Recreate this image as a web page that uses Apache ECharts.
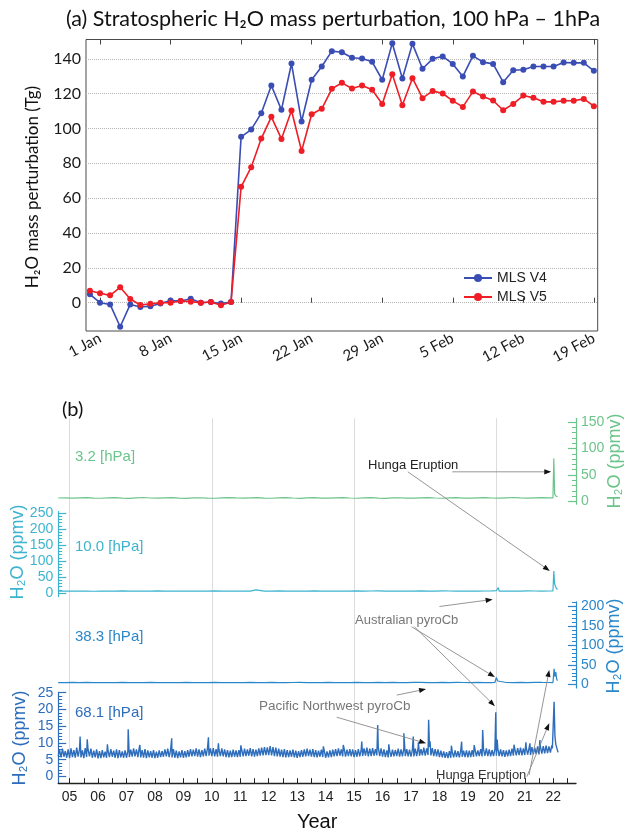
<!DOCTYPE html>
<html><head><meta charset="utf-8">
<script src="https://cdn.jsdelivr.net/npm/echarts@6/dist/echarts.min.js"></script>
<style>html,body{margin:0;padding:0;background:#fff}#c{width:624px;height:829px}</style>
</head><body><div id="c"></div>
<script>
// ================= DATA =================
// Panel (a): daily stratospheric H2O mass perturbation (Tg); first value = 31 Dec (day -1 from 1 Jan)
const aStartDay = -1;
const aTickDays = [0, 7, 14, 21, 28, 35, 42, 49];
const aTickLabels = ['1 Jan', '8 Jan', '15 Jan', '22 Jan', '29 Jan', '5 Feb', '12 Feb', '19 Feb'];
const aYTicks = [0, 20, 40, 60, 80, 100, 120, 140];
const mlsV4 = [4.8, 0, -1, -13.8, -1, -2.5, -2, -0.5, 1.2, 1, 2.3, 0, 0.4, -0.5, 0.4,
  95.2, 99.4, 108.8, 124.7, 110.7, 137.3, 104, 128, 135.6, 144.4, 143.8, 140.6, 140.2, 138.3, 128,
  149, 128.7, 148.6, 134.3, 140, 141.4, 137.1, 129.9, 141.7, 138.1, 137.1, 126.6, 133.5, 133.7,
  135.6, 135.6, 135.6, 137.9, 137.7, 137.7, 133.1];
const mlsV5 = [6.9, 5.4, 4.2, 8.8, 2.1, -1.3, -0.6, 0, 0, 1, 0.6, 0, 0.4, -1.5, 0.4,
  66.5, 77.8, 94.2, 106.7, 94, 110.3, 87.1, 108.2, 111.3, 122.8, 126.2, 123, 124.7, 122.2, 114.1,
  131.2, 113.4, 128.9, 117.4, 121.6, 120.1, 115.9, 112.4, 121.2, 118.4, 116.1, 110.5, 114.1, 118.9,
  117.6, 115.3, 115.3, 115.9, 115.9, 117, 112.8];

// Panel (b): H2O (ppmv) time series at four pressure levels
const bYearTicks = [2005,2006,2007,2008,2009,2010,2011,2012,2013,2014,2015,2016,2017,2018,2019,2020,2021,2022];
const bMinorYearTicks = [2005,2005.5,2006,2006.5,2007,2007.5,2008,2008.5,2009,2009.5,2010,2010.5,2011,2011.5,2012,2012.5,2013,2013.5,2014,2014.5,2015,2015.5,2016,2016.5,2017,2017.5,2018,2018.5,2019,2019.5,2020,2020.5,2021,2021.5,2022,2022.5];
const bGridYears = [2005, 2010, 2015, 2020];

// 3.2 hPa: values every 0.25 yr from 2004.6, then events
const lev32Start = 2004.6, lev32Step = 0.25;
const lev32Base = [6.6,7.0,6.2,6.8,7.4,6.5,6.1,6.9,7.2,6.4, 6.0,6.8,7.5,6.6,6.2,7.0,7.3,6.3,6.0,6.9,
  7.1,6.5,6.1,6.8,7.4,6.7,6.2,6.9,7.2,6.4, 6.1,6.7,7.3,6.6,6.0,6.8,7.2,6.5,6.2,7.0,
  7.4,6.6,6.1,6.9,7.3,6.4,6.0,6.8,7.1,6.5, 6.2,7.0,7.4,6.6,6.1,6.8,7.3,6.5,6.2,7.0,
  7.2,6.6,6.3,6.9,7.5,6.7,6.2,6.9,7.3,6.8];
const lev32Events = [[2021.99, 7.0], [2022.02, 81], [2022.05, 14], [2022.1, 10], [2022.15, 9]];

// 10.0 hPa
const lev10Start = 2004.6, lev10Step = 0.25;
const lev10Base = [6.0,5.6,6.3,5.8,6.1,5.5,6.2,5.9,5.7,6.4, 6.0,5.6,6.2,5.8,6.5,5.9,5.7,6.3,6.0,5.8,
  6.1,5.7,6.4,6.0,5.6,6.2,5.9,5.7,6.3,6.1, 5.8,6.4,6.0,5.6,6.2,5.9,6.5,6.0,5.7,6.3,
  6.1,5.8,6.4,5.9,6.2,6.6,6.0,5.7,6.3,6.0, 5.8,6.4,6.1,5.9,6.5,6.2,5.8,6.3,6.0,5.9,
  6.2,6.6,6.1,5.8,6.3,6.0,6.4,6.2,5.9,6.3];
const lev10Events = [[2011.55, 10], [2020.0, 7], [2020.07, 17], [2020.14, 9],
  [2021.99, 6.5], [2022.02, 69], [2022.05, 28], [2022.1, 16], [2022.15, 11]];

// 38.3 hPa
const lev38Start = 2004.6, lev38Step = 0.25;
const lev38Base = [5.0,4.6,5.2,4.8,5.3,4.7,4.9,5.1,4.6,5.2, 4.8,5.0,4.7,5.3,4.9,4.6,5.1,4.8,5.2,4.7,
  5.0,4.8,5.4,4.9,4.6,5.1,4.8,5.3,5.0,4.7, 5.2,4.9,4.6,5.1,5.4,4.8,5.0,4.7,5.3,4.9,
  5.1,4.8,5.5,5.0,4.7,5.2,4.9,5.4,5.0,4.8, 5.3,5.6,5.0,4.8,5.2,4.9,5.5,5.1,4.8,5.2,
  5.0,4.9,5.6,5.1,4.8,5.3,5.0,5.4,5.2,5.1];
const lev38Events = [[2017.65, 9], [2019.95, 5.2], [2020.0, 18], [2020.05, 9],
  [2021.99, 5], [2022.03, 40], [2022.06, 20], [2022.09, 32], [2022.12, 14], [2022.15, 10]];

// 68.1 hPa: low / high envelope of the noisy band in 0.1-yr bins from 2004.6, plus spikes
const lev68Start = 2004.6, lev68Step = 0.1;
const lev68Low = [6.0,5.7,5.9,5.6,
  5.5,5.8,5.6,5.9,5.7,5.5,5.8,6.0,5.6,5.7,
  5.4,5.5,5.7,5.6,5.8,5.9,5.6,5.5,5.7,5.6,
  5.6,5.8,5.9,6.0,5.8,5.7,5.6,5.5,5.7,5.6,
  5.5,5.6,5.8,5.9,6.0,5.8,5.7,5.6,5.5,5.7,
  5.6,5.7,5.9,6.0,6.1,5.9,5.8,6.0,6.1,6.2,
  6.1,6.0,5.9,6.1,6.0,5.8,5.7,5.8,5.9,5.8,
  5.9,6.0,6.1,6.2,6.0,5.9,6.1,6.2,6.3,6.4,
  6.4,6.3,6.1,6.0,5.9,5.8,5.7,5.8,5.9,5.7,
  5.6,5.8,5.9,6.0,6.1,5.9,5.8,5.7,5.9,5.8,
  5.6,5.7,5.8,6.0,6.1,6.2,6.0,5.9,6.1,6.0,
  5.8,5.9,6.0,6.1,6.2,6.0,6.1,6.2,6.3,6.1,
  5.9,5.8,5.7,5.9,6.0,6.1,5.9,6.0,6.1,6.0,
  5.9,6.0,6.1,6.2,6.3,6.2,6.4,6.3,6.1,6.0,
  5.8,5.7,5.6,5.5,5.6,5.7,5.8,5.7,5.9,5.8,
  5.7,5.8,5.9,6.0,6.1,6.0,6.2,6.1,6.0,6.1,
  6.2,6.1,6.0,5.9,6.0,6.1,6.2,6.3,6.4,6.3,
  6.4,6.5,6.4,6.6,6.7,6.6,6.8,6.9,7.0,7.1];
const lev68High = [7.9,8.3,7.6,8.1,
  8.4,7.9,8.6,8.2,7.8,8.5,8.0,8.3,7.7,8.1,
  7.6,7.9,7.4,7.8,8.2,7.7,8.1,7.9,7.5,7.8,
  7.7,8.0,8.4,8.1,8.6,7.9,8.2,7.8,7.6,7.9,
  7.4,7.8,7.6,8.1,8.3,7.9,8.2,7.7,7.5,7.9,
  7.6,7.9,8.2,8.0,8.4,8.1,7.9,8.3,8.6,8.4,
  8.5,8.2,8.0,8.4,8.1,7.9,7.7,8.0,7.8,7.9,
  8.0,8.3,8.1,8.5,8.2,8.0,8.4,8.6,8.8,8.7,
  9.1,8.8,8.6,8.3,8.0,8.2,7.9,7.8,8.0,7.7,
  7.6,7.9,8.1,8.3,8.0,8.2,7.9,7.7,8.0,7.8,
  7.5,7.8,8.0,8.2,8.4,8.1,8.3,8.0,8.2,8.1,
  7.9,8.2,8.0,8.4,8.6,8.3,8.5,8.2,8.7,8.4,
  8.1,7.8,7.6,8.0,7.9,8.3,8.1,8.4,8.2,8.0,
  8.0,8.3,8.5,8.2,8.6,8.4,8.8,8.5,8.2,8.1,
  7.7,7.5,7.3,7.6,7.4,7.8,7.6,7.9,7.7,7.8,
  7.7,7.9,8.1,7.8,8.2,8.0,8.4,8.1,7.9,8.2,
  8.4,8.1,7.9,7.8,8.0,8.3,8.2,8.5,8.6,8.4,
  8.7,8.5,8.8,8.6,9.0,8.8,9.1,9.2,9.0,9.3];
const lev68Events = [[2005.37, 11.9], [2005.62, 11.1], [2006.33, 9.6], [2007.06, 14.1], [2007.47, 9.4],
  [2008.59, 11.4], [2009.88, 11.7], [2010.23, 9.9], [2011.02, 9.3], [2011.87, 8.9], [2013.92, 9.0],
  [2014.62, 9.4], [2015.27, 10.4], [2015.83, 15.4], [2016.22, 9.6], [2016.75, 12.9], [2017.08, 11.9],
  [2017.26, 10.2], [2017.62, 16.9], [2017.67, 10.5], [2018.42, 9.2], [2018.78, 10.4], [2019.22, 9.4],
  [2019.52, 13.9], [2019.98, 19.2], [2020.03, 11], [2020.62, 9.5], [2021.04, 10.2], [2021.18, 9.9],
  [2021.53, 10.9], [2021.97, 8.4], [2022.03, 22.3], [2022.06, 12], [2022.09, 9.6], [2022.13, 9.2], [2022.17, 7.2]];

// ================= LAYOUT =================
const FA = 'Lato, "Open Sans", sans-serif';
const FB = '"Liberation Sans", Arial, sans-serif';
const cV4 = '#3a4db4', cV5 = '#ee1d26';
const B_LEFT = 58.2, B_RIGHT = 576, B_XMIN = 2004.6, B_XMAX = 2022.8;
const bPanels = [
  {name: '3.2 [hPa]',  color: '#6cc48b', zero: 501.5, ppu: 0.53, min: -5,    max: 157,  side: 'right', labels: [0,50,100,150], minorStep: 10},
  {name: '10.0 [hPa]', color: '#3db4cf', zero: 593,   ppu: 0.32, min: -11.5, max: 254,  side: 'left',  labels: [0,50,100,150,200,250], minorStep: 10},
  {name: '38.3 [hPa]', color: '#2a87c9', zero: 684.5, ppu: 0.39, min: -9,    max: 212,  side: 'right', labels: [0,50,100,150,200], minorStep: 10},
  {name: '68.1 [hPa]', color: '#2d6dbc', zero: 776.5, ppu: 3.35, min: -2,    max: 25.1, side: 'left',  labels: [0,5,10,15,20,25], minorStep: 1}
];
function buildSeries(start, step, base, events) {
  const pts = base.map((v, i) => [+(start + i * step).toFixed(3), v]);
  return pts.concat(events).sort((a, b) => a[0] - b[0]);
}
function buildEnvelope(start, step, lows, highs, events) {
  const pts = [];
  lows.forEach((v, i) => {
    const t = start + i * step;
    pts.push([+t.toFixed(3), v], [+(t + step / 2).toFixed(3), highs[i]]);
  });
  return pts.concat(events).sort((a, b) => a[0] - b[0]);
}
const bData = [
  buildSeries(lev32Start, lev32Step, lev32Base, lev32Events),
  buildSeries(lev10Start, lev10Step, lev10Base, lev10Events),
  buildSeries(lev38Start, lev38Step, lev38Base, lev38Events),
  buildEnvelope(lev68Start, lev68Step, lev68Low, lev68High, lev68Events)
];
function rangeVals(min, max, step) {
  const out = [];
  for (let v = Math.ceil(min / step) * step; v <= max + 1e-9; v += step) out.push(+v.toFixed(4));
  return out;
}

const grids = [{left: 86, top: 39.5, width: 511.7, height: 291.5, show: true, borderColor: '#4a4a4a', borderWidth: 1}];
bPanels.forEach(p => grids.push({left: B_LEFT, width: B_RIGHT - B_LEFT, top: p.zero - p.max * p.ppu, height: (p.max - p.min) * p.ppu}));
const bTop = grids[1].top, bBottom = grids[4].top + grids[4].height;
grids.push({left: B_LEFT, width: B_RIGHT - B_LEFT, top: bTop, height: bBottom - bTop});
grids.forEach(g => { g.containLabel = false; g.outerBoundsMode = 'none'; });

const xAxes = [
  {gridIndex: 0, type: 'value', position: 'bottom', min: -1.39, max: 49.38,
    axisLine: {show: false}, splitLine: {show: false},
    axisTick: {show: true, inside: true, length: 5, customValues: aTickDays, lineStyle: {color: '#444'}},
    axisLabel: {customValues: aTickDays, rotate: 28, margin: 6, fontFamily: FA, fontSize: 15, color: '#1a1a1a',
      formatter: v => aTickLabels[aTickDays.indexOf(Math.round(v))] || ''}},
  {gridIndex: 0, type: 'value', position: 'top', min: -1.39, max: 49.38,
    axisLine: {show: false}, splitLine: {show: false}, axisLabel: {show: false},
    axisTick: {show: true, inside: true, length: 5, customValues: aTickDays, lineStyle: {color: '#444'}}}
];
bPanels.forEach((p, k) => xAxes.push({gridIndex: k + 1, type: 'value', min: B_XMIN, max: B_XMAX, show: false}));
// background grid: vertical gridlines
xAxes.push({gridIndex: 5, type: 'value', min: B_XMIN, max: B_XMAX, position: 'bottom',
  axisLine: {show: false}, axisLabel: {show: false},
  axisTick: {show: false, customValues: bGridYears},
  splitLine: {show: true, lineStyle: {color: '#dcdcdc', width: 1}}});
// background grid: labelled year axis
xAxes.push({gridIndex: 5, type: 'value', min: B_XMIN, max: B_XMAX, position: 'bottom',
  axisLine: {show: true, lineStyle: {color: '#222', width: 1.3}}, splitLine: {show: false},
  axisTick: {show: true, inside: true, length: 5, customValues: bMinorYearTicks, lineStyle: {color: '#222'}},
  axisLabel: {customValues: bYearTicks, margin: 7, fontFamily: FB, fontSize: 14, color: '#222',
    formatter: v => String(Math.round(v)).slice(2)},
  name: 'Year', nameLocation: 'middle', nameGap: 29, nameTextStyle: {fontFamily: FB, fontSize: 20, color: '#111'}});

const yAxes = [
  {gridIndex: 0, type: 'value', min: -16.26, max: 151.1,
    axisLine: {show: false}, axisTick: {show: false, customValues: aYTicks},
    axisLabel: {customValues: aYTicks, margin: 5, fontFamily: FA, fontSize: 16, color: '#1a1a1a'},
    splitLine: {show: true, lineStyle: {color: '#b5b5b5', type: 'dotted', width: 1}}}
];
const mainY = [];
bPanels.forEach((p, k) => {
  mainY.push(yAxes.length);
  yAxes.push({gridIndex: k + 1, type: 'value', min: p.min, max: p.max, position: p.side,
    axisLine: {show: true, lineStyle: {color: p.color, width: 1.2}}, splitLine: {show: false},
    axisTick: {show: true, inside: true, length: 8, customValues: p.labels, lineStyle: {color: p.color, width: 1.2}},
    axisLabel: {customValues: p.labels, margin: 5, fontFamily: FB, fontSize: 14, color: p.color}});
  yAxes.push({gridIndex: k + 1, type: 'value', min: p.min, max: p.max, position: p.side,
    axisLine: {show: false}, splitLine: {show: false}, axisLabel: {show: false},
    axisTick: {show: true, inside: true, length: 4, customValues: rangeVals(0, p.max, p.minorStep), lineStyle: {color: p.color, width: 1}}});
});
yAxes.push({gridIndex: 5, type: 'value', min: 0, max: 1, show: false});

const series = [
  {name: 'MLS V4', type: 'line', xAxisIndex: 0, yAxisIndex: 0, data: mlsV4.map((v, i) => [aStartDay + i, v]),
    symbol: 'circle', symbolSize: 6, color: cV4, lineStyle: {width: 1.6, color: cV4}, itemStyle: {color: cV4}},
  {name: 'MLS V5', type: 'line', xAxisIndex: 0, yAxisIndex: 0, data: mlsV5.map((v, i) => [aStartDay + i, v]),
    symbol: 'circle', symbolSize: 6, color: cV5, lineStyle: {width: 1.6, color: cV5}, itemStyle: {color: cV5}}
];
bPanels.forEach((p, k) => {
  series.push({type: 'line', xAxisIndex: 2 + k, yAxisIndex: mainY[k], data: bData[k],
    showSymbol: false, symbol: 'none', lineStyle: {width: k === 3 ? 1.4 : 1.2, color: p.color}, color: p.color, z: 3});
});

const chart = echarts.init(document.getElementById('c'), null, {renderer: 'canvas', width: 624, height: 829});
chart.setOption({
  animation: false,
  backgroundColor: '#ffffff',
  grid: grids, xAxis: xAxes, yAxis: yAxes, series: series,
  legend: {data: ['MLS V4', 'MLS V5'], orient: 'vertical', left: 463, top: 271, itemWidth: 28, itemHeight: 10,
    itemGap: 5, textStyle: {fontFamily: FB, fontSize: 14, color: '#222'}, padding: 0}
});

// ================= ANNOTATIONS =================
function px(g, pt) { return chart.convertToPixel({gridIndex: g}, pt); }
function arrow(p0, p1) {
  const dx = p1[0] - p0[0], dy = p1[1] - p0[1], len = Math.hypot(dx, dy), ux = dx / len, uy = dy / len;
  const L = 7, W = 2.6, bx = p1[0] - ux * L, by = p1[1] - uy * L;
  return [
    {type: 'line', silent: true, z: 100, shape: {x1: p0[0], y1: p0[1], x2: bx, y2: by}, style: {stroke: '#8a8a8a', lineWidth: 0.9}},
    {type: 'polygon', silent: true, z: 100, shape: {points: [[p1[0], p1[1]], [bx - uy * W, by + ux * W], [bx + uy * W, by - ux * W]]}, style: {fill: '#111'}}
  ];
}
const arrows = [
  [1, [2018.45, 56], 1, [2021.93, 56]],
  [1, [2016.89, 56], 2, [2021.88, 69]],
  [3, [2018.0, 200], 2, [2019.87, -20]],
  [3, [2017.02, 148], 3, [2019.95, 19]],
  [3, [2017.12, 148], 4, [2019.95, 21]],
  [4, [2016.5, 24.3], 4, [2017.53, 26.1]],
  [4, [2014.39, 17.7], 4, [2017.53, 9.9]],
  [4, [2021.07, -0.06], 4, [2021.86, 15.9]],
  [4, [2021.15, 0.45], 3, [2021.86, 37.2]]
];
function txt(text, x, y, color, font) {
  return {type: 'text', x: x, y: y, silent: true, z: 101,
    style: {text: text, fill: color, font: font, textAlign: 'left', textVerticalAlign: 'middle', align: 'left', verticalAlign: 'middle'}};
}
function rtxt(text, x, y, color, font) {
  return {type: 'text', x: x, y: y, rotation: Math.PI / 2, silent: true, z: 101,
    style: {text: text, fill: color, font: font, textAlign: 'center', textVerticalAlign: 'middle', align: 'center', verticalAlign: 'middle'}};
}
const g = [];
arrows.forEach(a => g.push(...arrow(px(a[0], a[1]), px(a[2], a[3]))));
g.push({type: 'text', x: 333, y: 19, silent: true, style: {text: '(a) Stratospheric H\u2082O mass perturbation, 100 hPa \u2013 1hPa', fill: '#111',
  font: '21.5px ' + FA, textAlign: 'center', textVerticalAlign: 'middle', align: 'center', verticalAlign: 'middle'}});
g.push(rtxt('H\u2082O mass perturbation (Tg)', 33, 187, '#111', '17px ' + FA));
g.push(txt('(b)', 62, 410, '#111', '20px ' + FA));
g.push(txt('Hunga Eruption', 368, 465, '#222', '13px ' + FB));
g.push(txt('Australian pyroCb', 355, 620, '#777', '13px ' + FB));
g.push(txt('Pacific Northwest pyroCb', 259, 706, '#777', '13.5px ' + FB));
g.push(txt('Hunga Eruption', 436, 775, '#333', '13px ' + FB));
const nameY = [457, 547, 637, 713];
const titleX = [615, 18, 614, 20];
const titleY = [461, 552, 646, 738];
bPanels.forEach((p, k) => {
  g.push(txt(p.name, 75, nameY[k], p.color, '15px ' + FB));
  g.push(rtxt('H\u2082O (ppmv)', titleX[k], titleY[k], p.color, '18px ' + FB));
});
chart.setOption({graphic: g});
</script>
</body></html>
